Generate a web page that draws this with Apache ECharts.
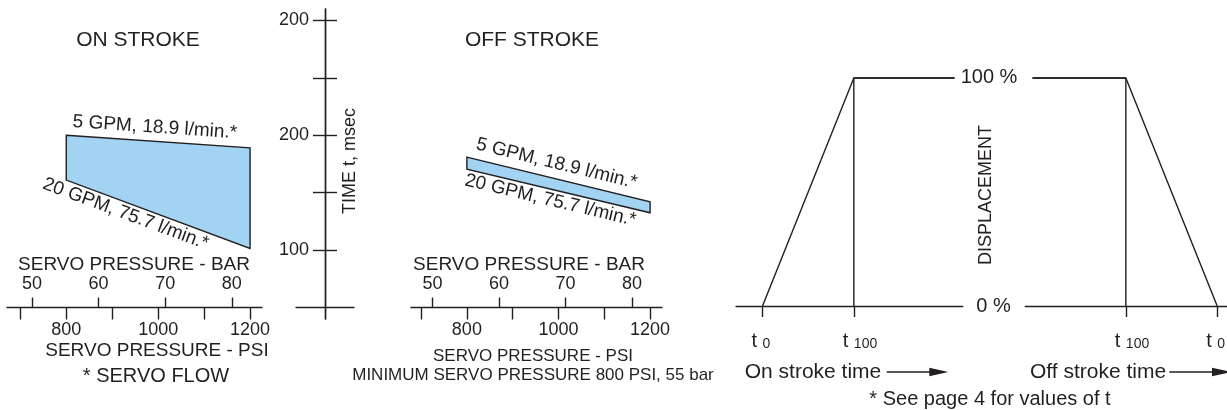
<!DOCTYPE html>
<html>
<head>
<meta charset="utf-8">
<title>Servo stroke time</title>
<script src="https://cdn.jsdelivr.net/npm/echarts@6/dist/echarts.min.js"></script>
<style>
  html, body { margin: 0; padding: 0; background: #fff; }
  #chart { width: 1227px; height: 410px; }
</style>
</head>
<body>
<div id="chart"></div>
<script>
// servo pressure (psi) at the two ends of each band
var psiEnds = [800, 1200];
// stroke time t (msec) at 800 and 1200 psi
var onStroke5gpm = [200, 189];
var onStroke20gpm = [161, 101.5];
var offStroke5gpm = [181, 142];
var offStroke20gpm = [170.5, 132.5];

var psiTicks = [700, 800, 900, 1000, 1100, 1200];
var psiLabels = [800, 1000, 1200];
var barTicks = [50, 60, 70, 80];
var timeTicks = [100, 150, 200, 250, 300];
var timeLabelValues = [100, 200, 300];
var timeLabelTexts = ['100', '200', '200'];

// displacement sketch: t0, t100 (on stroke), t100, t0 (off stroke)
var strokeTimes = [5.4, 24, 79.4, 98];
var strokeDisplacement = [0, 100, 100, 0];
var strokeTimeSubs = ['0', '100', '100', '0'];

var INK = '#231f20';
var BLUE = '#a2d3f2';
var FONT = '"Liberation Sans", Arial, sans-serif';
var PSI_PER_BAR = 14.5038;
var LW = 1.4;

function nearest(arr, v) {
  var best = 0;
  for (var i = 1; i < arr.length; i++) {
    if (Math.abs(arr[i] - v) < Math.abs(arr[best] - v)) best = i;
  }
  return best;
}

function plain(v) {
  return String(Math.round(v));
}

//压力轴: psi below, bar above
function pressureAxes(gridIndex, psiMin, psiMax) {
  return [
    {
      type: 'value', gridIndex: gridIndex, position: 'bottom', offset: -11.5,
      min: psiMin, max: psiMax,
      axisLine: { onZero: false, lineStyle: { color: INK, width: LW } },
      axisTick: { customValues: psiTicks, length: 12, lineStyle: { color: INK, width: LW } },
      axisLabel: { customValues: psiLabels, margin: 14, color: INK, fontSize: 18, fontFamily: FONT, formatter: plain },
      splitLine: { show: false }
    },
    {
      type: 'value', gridIndex: gridIndex, position: 'bottom', offset: -11.5,
      min: psiMin / PSI_PER_BAR, max: psiMax / PSI_PER_BAR,
      axisLine: { show: false, onZero: false },
      axisTick: { customValues: barTicks, inside: true, length: 10, lineStyle: { color: INK, width: LW } },
      axisLabel: { customValues: barTicks, inside: true, margin: 14, color: INK, fontSize: 18, fontFamily: FONT, formatter: plain },
      splitLine: { show: false }
    }
  ];
}

function hiddenY(gridIndex, min, max) {
  return { type: 'value', gridIndex: gridIndex, min: min, max: max, show: false, splitLine: { show: false } };
}

function bandItem(upper, lower) {
  return [psiEnds[0], psiEnds[1], upper[0], upper[1], lower[0], lower[1]];
}

function textAlong(a, b, at, gap, text) {
  var dx = b[0] - a[0], dy = b[1] - a[1];
  var len = Math.sqrt(dx * dx + dy * dy);
  var ux = dx / len, uy = dy / len;
  // gap > 0 above the line, < 0 below
  var x = a[0] + dx * at + uy * gap;
  var y = a[1] + dy * at - ux * gap;
  return {
    type: 'text', x: x, y: y, rotation: -Math.atan2(dy, dx),
    style: { text: text, fill: INK, fontSize: 19, fontFamily: FONT, align: 'center', verticalAlign: 'middle' }
  };
}

function bandSeries(xIdx, yIdx, item, labels) {
  return {
    type: 'custom', xAxisIndex: xIdx, yAxisIndex: yIdx,
    data: [item],
    encode: { x: [0, 1], y: [2, 3, 4, 5] },
    renderItem: function (params, api) {
      var tl = api.coord([api.value(0), api.value(2)]);
      var tr = api.coord([api.value(1), api.value(3)]);
      var br = api.coord([api.value(1), api.value(5)]);
      var bl = api.coord([api.value(0), api.value(4)]);
      return {
        type: 'group',
        children: [
          { type: 'polygon', shape: { points: [tl, tr, br, bl] },
            style: { fill: BLUE, stroke: INK, lineWidth: LW, lineJoin: 'miter' } },
          textAlong(tl, tr, labels[0].at, labels[0].gap, '5 GPM, 18.9 l/min.*'),
          textAlong(bl, br, labels[1].at, -labels[1].gap, '20 GPM, 75.7 l/min.*')
        ]
      };
    }
  };
}

function label(text, x, y, size, extra) {
  var el = {
    type: 'text', x: x, y: y, z: 100,
    style: { text: text, fill: INK, fontSize: size, fontFamily: FONT, align: 'center', verticalAlign: 'middle' }
  };
  if (extra) {
    for (var k in extra) el.style[k] = extra[k];
  }
  return el;
}

function arrow(x1, x2, y) {
  return [
    { type: 'line', shape: { x1: x1, y1: y, x2: x2 - 17, y2: y }, style: { stroke: INK, lineWidth: LW } },
    { type: 'polygon', shape: { points: [[x2 - 19, y - 4.3], [x2, y], [x2 - 19, y + 4.3]] }, style: { fill: INK } }
  ];
}

var xAxes = []
  .concat(pressureAxes(0, 671, 1226))
  .concat(pressureAxes(1, 678, 1226))
  .concat([
    {
      type: 'value', gridIndex: 2, position: 'bottom', offset: -11.5, min: -1, max: 1,
      axisLine: { onZero: false, lineStyle: { color: INK, width: LW } },
      axisTick: { show: false }, axisLabel: { show: false }, splitLine: { show: false }
    },
    {
      type: 'value', gridIndex: 3, position: 'bottom', min: 0, max: 100,
      axisLine: { onZero: false, lineStyle: { color: INK, width: LW } },
      axisTick: { customValues: strokeTimes, length: 11, lineStyle: { color: INK, width: LW } },
      axisLabel: {
        customValues: strokeTimes, margin: 23, align: 'center',
        formatter: function (v) {
          return '{t|t}{s|' + strokeTimeSubs[nearest(strokeTimes, v)] + '}';
        },
        rich: {
          t: { fontSize: 20, lineHeight: 22, width: 11, align: 'left', verticalAlign: 'bottom', color: INK, fontFamily: FONT },
          s: { fontSize: 14, width: 11, align: 'left', verticalAlign: 'bottom', color: INK, fontFamily: FONT }
        }
      },
      splitLine: { show: false }
    }
  ]);

var timeAxisBase = {
  type: 'value', gridIndex: 2, min: 40, max: 310, offset: -29,
  axisLine: { onZero: false, lineStyle: { color: INK, width: LW } },
  axisTick: { customValues: timeTicks, length: 12, lineStyle: { color: INK, width: LW } },
  splitLine: { show: false }
};

var yAxes = [
  hiddenY(0, 40, 310),
  hiddenY(1, 40, 310),
  echarts.util.merge({
    position: 'left',
    axisLabel: {
      customValues: timeLabelValues, margin: 16, color: INK, fontSize: 18, fontFamily: FONT,
      formatter: function (v) { return timeLabelTexts[nearest(timeLabelValues, v)]; }
    }
  }, timeAxisBase),
  echarts.util.merge({
    position: 'right',
    axisLabel: { show: false },
    name: 'TIME t, msec', nameLocation: 'middle', nameGap: 16, nameMoveOverlap: false,
    nameTextStyle: { color: INK, fontSize: 18, fontFamily: FONT, padding: [0, 0, 0, 6] }
  }, timeAxisBase),
  hiddenY(3, 0, 100)
];

var option = {
  animation: false,
  backgroundColor: '#fff',
  textStyle: { fontFamily: FONT, color: INK },
  grid: [
    { left: 7, width: 255, top: 9, height: 310, outerBoundsMode: 'none', containLabel: false },
    { left: 411, width: 251, top: 9, height: 310, outerBoundsMode: 'none', containLabel: false },
    { left: 296, width: 58, top: 9, height: 310, outerBoundsMode: 'none', containLabel: false },
    { left: 736, width: 491, top: 78, height: 228, outerBoundsMode: 'none', containLabel: false }
  ],
  xAxis: xAxes,
  yAxis: yAxes,
  series: [
    bandSeries(0, 0, bandItem(onStroke5gpm, onStroke20gpm), [{ at: 0.477, gap: 14 }, { at: 0.344, gap: 11 }]),
    bandSeries(2, 1, bandItem(offStroke5gpm, offStroke20gpm), [{ at: 0.47, gap: 15 }, { at: 0.47, gap: 11 }]),
    {
      type: 'line', xAxisIndex: 5, yAxisIndex: 4, clip: false, symbol: 'none',
      lineStyle: { color: INK, width: LW },
      data: strokeTimes.map(function (t, i) { return [t, strokeDisplacement[i]]; })
    },
    {
      type: 'line', xAxisIndex: 5, yAxisIndex: 4, clip: false, symbol: 'none',
      lineStyle: { color: INK, width: LW },
      data: [
        [strokeTimes[1], strokeDisplacement[0]],
        [strokeTimes[1], strokeDisplacement[1]],
        [strokeTimes[2], strokeDisplacement[2]],
        [strokeTimes[2], strokeDisplacement[3]]
      ]
    }
  ],
  graphic: {
    elements: [
      label('ON STROKE', 138, 40, 21),
      label('OFF STROKE', 532, 40, 21),
      label('SERVO PRESSURE - BAR', 134, 265, 19),
      label('SERVO PRESSURE - PSI', 157, 351, 19),
      label('* SERVO FLOW', 156, 376, 20),
      label('SERVO PRESSURE - BAR', 529, 265, 19),
      label('SERVO PRESSURE - PSI', 533, 356, 17),
      label('MINIMUM SERVO PRESSURE 800 PSI, 55 bar', 533, 375, 17),
      label('100 %', 993.5, 77.5, 20, { backgroundColor: '#fff', padding: [3, 15, 3, 6] }),
      label('0 %', 994, 306.5, 20, { backgroundColor: '#fff', padding: [3, 14, 3, 13] }),
      { type: 'text', x: 986, y: 195, z: 100, rotation: Math.PI / 2,
        style: { text: 'DISPLACEMENT', fill: INK, fontSize: 18, fontFamily: FONT, align: 'center', verticalAlign: 'middle' } },
      label('On stroke time', 813, 372, 21),
      label('Off stroke time', 1098, 372, 21),
      label('* See page 4 for values of t', 990, 399, 20)
    ].concat(arrow(886.7, 948.3, 372)).concat(arrow(1169.3, 1231, 372))
  }
};

var chart = echarts.init(document.getElementById('chart'));
chart.setOption(option);
window.addEventListener('resize', function () {
  chart.resize();
});
</script>
</body>
</html>
